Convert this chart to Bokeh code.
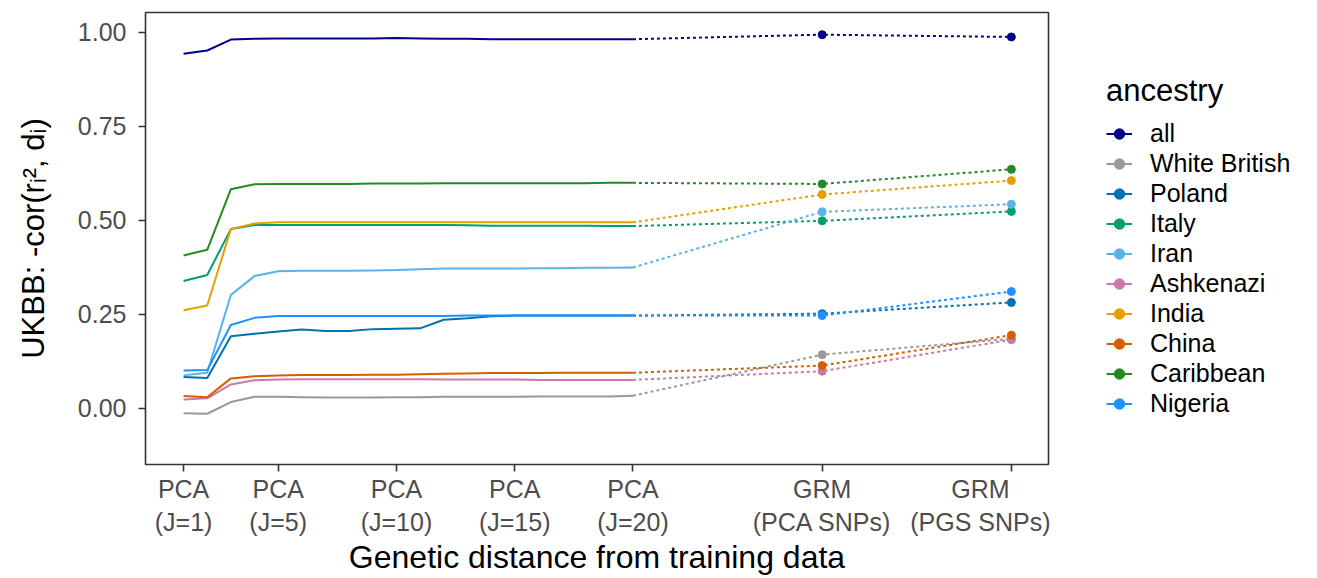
from bokeh.plotting import figure
from bokeh.layouts import row
from bokeh.models import (FixedTicker, Legend, LegendItem, Range1d)
from bokeh.embed import file_html
from bokeh.resources import INLINE

# ---------------- data ----------------
ancestries = ["all", "White British", "Poland", "Italy", "Iran", "Ashkenazi",
              "India", "China", "Caribbean", "Nigeria"]
colors = ["#00008B", "#999999", "#0072B2", "#009E73", "#56B4E9", "#CC79A7",
          "#E69F00", "#D55E00", "#228B22", "#1E90FF"]

pca_j = list(range(1, 21))
grm_x = [28, 36]
x_ticks = [1, 5, 10, 15, 20, 28, 36]
x_tick_labels = ["PCA\n(J=1)", "PCA\n(J=5)", "PCA\n(J=10)", "PCA\n(J=15)",
                 "PCA\n(J=20)", "GRM\n(PCA SNPs)", "GRM\n(PGS SNPs)"]
y_ticks = [0.0, 0.25, 0.5, 0.75, 1.0]
y_tick_labels = ["0.00", "0.25", "0.50", "0.75", "1.00"]

pca_all = [0.943, 0.952, 0.981, 0.983, 0.984, 0.984, 0.984, 0.984, 0.984, 0.985,
           0.984, 0.983, 0.983, 0.982, 0.982, 0.982, 0.982, 0.982, 0.982, 0.982]
pca_wb = [-0.013, -0.014, 0.017, 0.031, 0.031, 0.030, 0.029, 0.029, 0.029, 0.030,
          0.030, 0.031, 0.031, 0.031, 0.031, 0.032, 0.032, 0.032, 0.032, 0.034]
pca_poland = [0.084, 0.081, 0.192, 0.199, 0.205, 0.210, 0.206, 0.206, 0.211, 0.212,
              0.213, 0.236, 0.240, 0.245, 0.247, 0.247, 0.247, 0.247, 0.247, 0.247]
pca_italy = [0.339, 0.355, 0.477, 0.488, 0.488, 0.488, 0.488, 0.488, 0.488, 0.488,
             0.488, 0.488, 0.487, 0.486, 0.486, 0.486, 0.486, 0.486, 0.485, 0.485]
pca_iran = [0.088, 0.095, 0.302, 0.352, 0.365, 0.366, 0.366, 0.366, 0.367, 0.368,
            0.370, 0.372, 0.372, 0.372, 0.372, 0.373, 0.373, 0.374, 0.374, 0.375]
pca_ashk = [0.024, 0.027, 0.064, 0.075, 0.077, 0.078, 0.078, 0.078, 0.078, 0.078,
            0.078, 0.077, 0.077, 0.077, 0.077, 0.076, 0.076, 0.076, 0.076, 0.076]
pca_india = [0.261, 0.274, 0.477, 0.492, 0.495, 0.495, 0.495, 0.495, 0.495, 0.495,
             0.495, 0.495, 0.495, 0.495, 0.495, 0.495, 0.495, 0.495, 0.495, 0.495]
pca_china = [0.033, 0.030, 0.080, 0.086, 0.088, 0.089, 0.089, 0.089, 0.090, 0.090,
             0.091, 0.092, 0.093, 0.094, 0.094, 0.094, 0.095, 0.095, 0.095, 0.095]
pca_carib = [0.407, 0.422, 0.583, 0.596, 0.597, 0.597, 0.597, 0.597, 0.598, 0.598,
             0.598, 0.599, 0.599, 0.599, 0.599, 0.599, 0.599, 0.599, 0.600, 0.600]
pca_nigeria = [0.101, 0.102, 0.222, 0.241, 0.246, 0.246, 0.246, 0.246, 0.246, 0.246,
               0.246, 0.246, 0.247, 0.247, 0.247, 0.247, 0.247, 0.247, 0.247, 0.247]

grm_all = [0.994, 0.988]
grm_wb = [0.143, 0.185]
grm_poland = [0.252, 0.282]
grm_italy = [0.499, 0.524]
grm_iran = [0.523, 0.543]
grm_ashk = [0.099, 0.183]
grm_india = [0.569, 0.606]
grm_china = [0.114, 0.195]
grm_carib = [0.597, 0.636]
grm_nigeria = [0.247, 0.311]

pca_values = [pca_all, pca_wb, pca_poland, pca_italy, pca_iran, pca_ashk,
              pca_india, pca_china, pca_carib, pca_nigeria]
grm_values = [grm_all, grm_wb, grm_poland, grm_italy, grm_iran, grm_ashk,
              grm_india, grm_china, grm_carib, grm_nigeria]

# ---------------- main figure ----------------
FONT = "Liberation Sans"
H = 578
p = figure(width=1050, height=H, output_backend="svg", toolbar_location=None,
           x_range=Range1d(-0.61, 37.57), y_range=Range1d(-0.149, 1.053),
           min_border_left=145, min_border_right=2, min_border_top=12,
           min_border_bottom=113)
p.background_fill_color = "white"
p.border_fill_color = "white"
p.outline_line_color = "#333333"
p.outline_line_width = 1.6
p.grid.visible = False

for name, col, pv, gv in zip(ancestries, colors, pca_values, grm_values):
    p.line(pca_j, pv, line_color=col, line_width=2)
    p.line([pca_j[-1]] + grm_x, [pv[-1]] + gv, line_color=col, line_width=2,
           line_dash="3 3")
    p.scatter(grm_x, gv, size=8, fill_color=col, line_color=col)

# axes
p.xaxis.ticker = FixedTicker(ticks=x_ticks)
p.xaxis.major_label_overrides = {t: l for t, l in zip(x_ticks, x_tick_labels)}
p.yaxis.ticker = FixedTicker(ticks=y_ticks)
p.yaxis.major_label_overrides = {t: l for t, l in zip(y_ticks, y_tick_labels)}
for ax in (p.xaxis, p.yaxis):
    ax.axis_line_color = None
    ax.major_tick_line_color = "#333333"
    ax.major_tick_line_width = 1.6
    ax.major_tick_out = 7
    ax.major_tick_in = 0
    ax.minor_tick_line_color = None
    ax.major_label_text_font = FONT
    ax.major_label_text_font_size = "25px"
    ax.major_label_text_color = "#4D4D4D"
    ax.axis_label_text_font = FONT
    ax.axis_label_text_font_style = "normal"
    ax.axis_label_text_color = "black"
p.xaxis.axis_label_text_font_size = "32px"
p.yaxis.axis_label_text_font_size = "31px"
p.xaxis.axis_label = "Genetic distance from training data"
p.yaxis.axis_label = "UKBB: -cor(rᵢ², dᵢ)"
p.xaxis.major_label_standoff = 3
p.yaxis.major_label_standoff = 12
p.xaxis.axis_label_standoff = 0
p.yaxis.axis_label_standoff = 24

# ---------------- legend panel ----------------
# its ranges lie away from the data, so only the legend keys show
lg = figure(width=267, height=H, output_backend="svg", toolbar_location=None,
            x_axis_type=None, y_axis_type=None,
            x_range=Range1d(-100, -99), y_range=Range1d(-100, -99),
            min_border_left=0, min_border_right=0, min_border_top=0,
            min_border_bottom=0)
lg.outline_line_color = None
lg.grid.visible = False
lg.background_fill_color = "white"
lg.border_fill_color = "white"

legend_items = []
for name, col, pv, gv in zip(ancestries, colors, pca_values, grm_values):
    r_line = lg.line(pca_j, pv, line_color=col, line_width=2)
    r_pts = lg.scatter(grm_x, gv, size=8, fill_color=col, line_color=col)
    legend_items.append(LegendItem(label=name, renderers=[r_line, r_pts]))

legend = Legend(items=legend_items, location=(56, 46), title="ancestry",
                title_text_font=FONT, title_text_font_size="31px",
                title_text_font_style="normal",
                title_text_color="black", title_standoff=10,
                label_text_font=FONT, label_text_font_size="25px",
                label_text_color="black", glyph_width=26, glyph_height=27,
                label_height=27, spacing=1, padding=4, margin=0,
                border_line_color=None, background_fill_alpha=0,
                label_standoff=18)
lg.add_layout(legend, "center")

layout = row(p, lg, spacing=0)
open("out.html", "w").write(file_html(layout, INLINE))
